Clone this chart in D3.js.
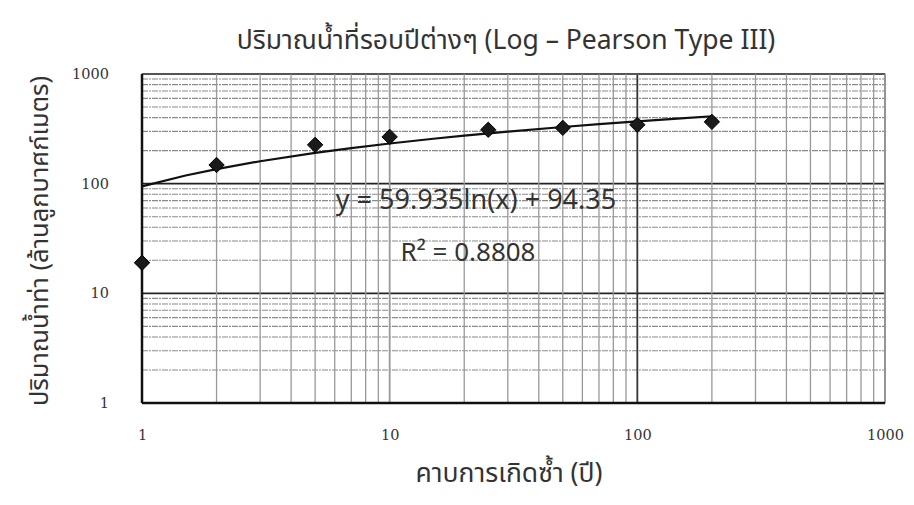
<!DOCTYPE html>
<html>
<head>
<meta charset="utf-8">
<script src="https://cdn.jsdelivr.net/npm/d3@7"></script>
<style>
  body { margin: 0; background: #fff; }
  svg { display: block; }
  .thai { font-family: "Noto Sans Thai", "Leelawadee UI", "Noto Sans", "DejaVu Sans", sans-serif; fill: #333; }
  .tick text { font-family: "DejaVu Serif", "Liberation Serif", serif; font-size: 14.5px; fill: #333; }
</style>
</head>
<body>
<svg width="914" height="505"></svg>
<script>
// Return periods (years) and discharge (million m3)
const returnPeriods = [1, 2, 5, 10, 25, 50, 100, 200];
const discharge = [19, 148, 226, 267, 310, 323, 344, 366];

const xTicks = [1, 10, 100, 1000];
const yTicks = [1, 10, 100, 1000];

// trend line coefficients: y = a ln(x) + b
const trendA = 59.935;
const trendB = 94.35;
const trendX = [1, 1.5, 2, 3, 5, 7, 10, 15, 20, 30, 50, 70, 100, 150, 200];

const svg = d3.select("svg");
const margin = { top: 74, right: 29, bottom: 102, left: 142 };
const width = 914, height = 505;
const innerWidth = width - margin.left - margin.right;
const innerHeight = height - margin.top - margin.bottom;

const g = svg.append("g")
    .attr("transform", `translate(${margin.left},${margin.top})`);

const x = d3.scaleLog().domain([1, 1000]).range([0, innerWidth]);
const y = d3.scaleLog().domain([1, 1000]).range([innerHeight, 0]);

// minor + major grid
const gridVals = [];
for (let d = 1; d < 1000; d *= 10) {
    for (let k = 1; k <= 9; k++) gridVals.push(d * k);
}
gridVals.push(1000);

g.append("g").selectAll("line")
    .data(gridVals)
    .join("line")
    .attr("x1", 0).attr("x2", innerWidth)
    .attr("y1", d => y(d)).attr("y2", d => y(d))
    .attr("stroke", d => yTicks.includes(d) ? "#222" : "#8a8a8a")
    .attr("stroke-width", d => yTicks.includes(d) ? 1.8 : 1.1)
    .attr("stroke-dasharray", d => yTicks.includes(d) ? null : "6,1,2,1");

g.append("g").selectAll("line")
    .data(gridVals)
    .join("line")
    .attr("y1", 0).attr("y2", innerHeight)
    .attr("x1", d => x(d)).attr("x2", d => x(d))
    .attr("stroke", d => d === 100 ? "#333" : "#999")
    .attr("stroke-width", d => xTicks.includes(d) ? 1.8 : 1.3);

// frame
g.append("rect")
    .attr("width", innerWidth).attr("height", innerHeight)
    .attr("fill", "none").attr("stroke", "#888").attr("stroke-width", 1);
g.append("line")
    .attr("x1", 0).attr("x2", 0).attr("y1", 0).attr("y2", innerHeight)
    .attr("stroke", "#111").attr("stroke-width", 2.5);
g.append("line")
    .attr("x1", 0).attr("x2", innerWidth).attr("y1", innerHeight).attr("y2", innerHeight)
    .attr("stroke", "#111").attr("stroke-width", 2.5);

// axes
const xAxis = d3.axisBottom(x).tickValues(xTicks).tickFormat(d3.format("d")).tickSize(0).tickPadding(27);
const yAxis = d3.axisLeft(y).tickValues(yTicks).tickFormat(d3.format("d")).tickSize(0).tickPadding(33);

g.append("g")
    .attr("transform", `translate(0,${innerHeight})`)
    .call(xAxis)
    .call(s => s.select(".domain").remove());

g.append("g")
    .call(yAxis)
    .call(s => s.select(".domain").remove());

// trend line
const line = d3.line()
    .x(d => x(d))
    .y(d => y(trendA * Math.log(d) + trendB));

g.append("path")
    .datum(trendX)
    .attr("fill", "none")
    .attr("stroke", "#111")
    .attr("stroke-width", 2.2)
    .attr("d", line);

// points
const data = returnPeriods.map((t, i) => ({ t: t, q: discharge[i] }));
g.append("g").selectAll("path")
    .data(data)
    .join("path")
    .attr("transform", d => `translate(${x(d.t)},${y(d.q)})`)
    .attr("d", d3.symbol().type(d3.symbolDiamond2).size(150))
    .attr("fill", "#1a1a1a")
    .attr("stroke", "#000")
    .attr("stroke-width", 1);

// equation labels
g.append("text")
    .attr("class", "thai")
    .attr("x", 476 - margin.left).attr("y", 209 - margin.top)
    .attr("text-anchor", "middle")
    .attr("font-size", 27)
    .text("y = 59.935ln(x) + 94.35");

g.append("text")
    .attr("class", "thai")
    .attr("x", 468 - margin.left).attr("y", 261 - margin.top)
    .attr("text-anchor", "middle")
    .attr("font-size", 26)
    .text("R² = 0.8808");

// title
svg.append("text")
    .attr("class", "thai")
    .attr("x", 506).attr("y", 49)
    .attr("text-anchor", "middle")
    .attr("font-size", 26.5)
    .text("ปริมาณน้ำที่รอบปีต่างๆ (Log – Pearson Type III)");

// x axis title
svg.append("text")
    .attr("class", "thai")
    .attr("x", 509).attr("y", 482)
    .attr("text-anchor", "middle")
    .attr("font-size", 26.5)
    .text("คาบการเกิดซ้ำ (ปี)");

// y axis title
svg.append("text")
    .attr("class", "thai")
    .attr("transform", "translate(48,241) rotate(-90)")
    .attr("text-anchor", "middle")
    .attr("font-size", 25.5)
    .text("ปริมาณน้ำท่า (ล้านลูกบาศก์เมตร)");
</script>
</body>
</html>
